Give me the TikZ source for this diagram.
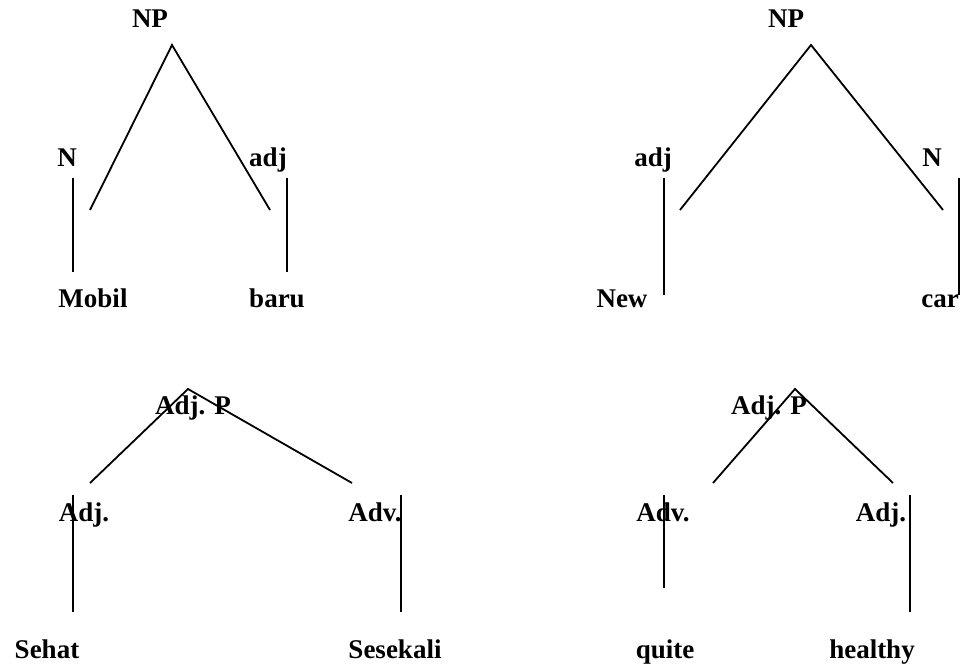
\documentclass[tikz,border=0pt]{standalone}
\usepackage{fontspec}
\setmainfont{Liberation Serif}
\begin{document}
\begin{tikzpicture}[x=1pt,y=-1pt,
  lbl/.style={inner sep=0pt,anchor=base,font=\fontsize{27}{32}\selectfont\bfseries},
  branch/.style={line width=1.8pt}]
\useasboundingbox (0,0) rectangle (962,668);

% --- NP: Mobil baru ---
\node[lbl] (np1) at (150,28) {NP};
\node[lbl] (n1) at (67,167) {N};
\node[lbl] (adj1) at (268,167) {adj};
\node[lbl] (mobil) at (93,308) {Mobil};
\node[lbl] (baru) at (277,308) {baru};
\coordinate (np1top) at (172,45);
\coordinate (np1l) at (90,210);
\coordinate (np1r) at (270,210);
\draw[branch] (np1l) -- (np1top) -- (np1r);
\draw[branch] (73,178) coordinate (n1a) -- (73,272) coordinate (n1b);
\draw[branch] (287,178) coordinate (adj1a) -- (287,272) coordinate (adj1b);

% --- NP: New car ---
\node[lbl] (np2) at (786,28) {NP};
\node[lbl] (adj2) at (653,167) {adj};
\node[lbl] (n2) at (932,167) {N};
\node[lbl] (new) at (622,308) {New};
\node[lbl] (car) at (940,308) {car};
\coordinate (np2top) at (811,45);
\coordinate (np2l) at (680,210);
\coordinate (np2r) at (943,210);
\draw[branch] (np2l) -- (np2top) -- (np2r);
\draw[branch] (664,178) coordinate (adj2a) -- (664,295) coordinate (adj2b);
\draw[branch] (959,178) coordinate (n2a) -- (959,295) coordinate (n2b);

% --- Adj. P: Sehat Sesekali ---
\node[lbl] (ap1) at (193,415) {Adj. P};
\node[lbl] (adj3) at (84,521) {Adj.};
\node[lbl] (adv3) at (375,521) {Adv.};
\node[lbl] (sehat) at (47,658) {Sehat};
\node[lbl] (sesekali) at (395,658) {Sesekali};
\coordinate (ap1top) at (188,389);
\coordinate (ap1l) at (90,483);
\coordinate (ap1r) at (352,483);
\draw[branch] (ap1l) -- (ap1top) -- (ap1r);
\draw[branch] (73,495) coordinate (adj3a) -- (73,612) coordinate (adj3b);
\draw[branch] (401,495) coordinate (adv3a) -- (401,612) coordinate (adv3b);

% --- Adj. P: quite healthy ---
\node[lbl] (ap2) at (769,415) {Adj. P};
\node[lbl] (adv4) at (663,521) {Adv.};
\node[lbl] (adj4) at (881,521) {Adj.};
\node[lbl] (quite) at (665,658) {quite};
\node[lbl] (healthy) at (872,658) {healthy};
\coordinate (ap2top) at (795,389);
\coordinate (ap2l) at (713,483);
\coordinate (ap2r) at (893,483);
\draw[branch] (ap2l) -- (ap2top) -- (ap2r);
\draw[branch] (664,495) coordinate (adv4a) -- (664,588) coordinate (adv4b);
\draw[branch] (910,495) coordinate (adj4a) -- (910,612) coordinate (adj4b);
\end{tikzpicture}
\end{document}
